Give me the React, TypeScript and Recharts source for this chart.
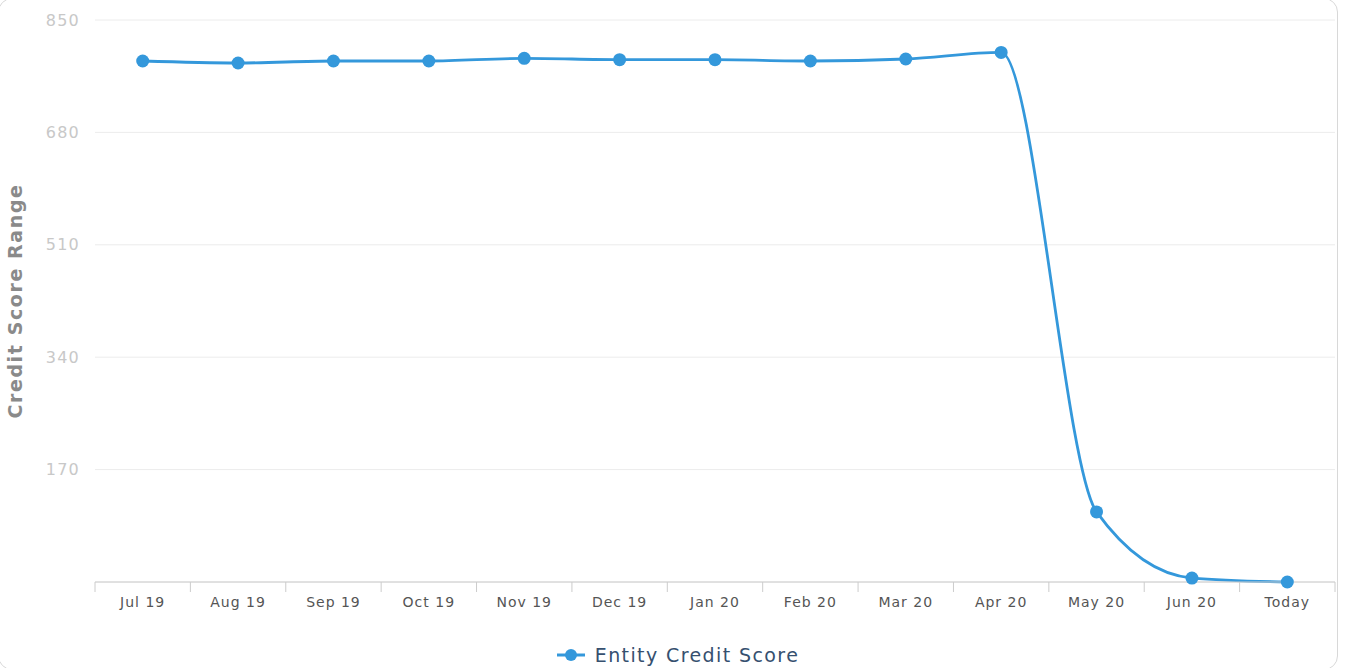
import React from "react";
import { LineChart, Line, XAxis, YAxis, CartesianGrid, Legend } from "recharts";

const months = ["Jul 19", "Aug 19", "Sep 19", "Oct 19", "Nov 19", "Dec 19", "Jan 20", "Feb 20", "Mar 20", "Apr 20", "May 20", "Jun 20", "Today"];
const scores = [788, 785, 788, 788, 792, 790, 790, 788, 791, 801, 106, 6, 0];
const yTicks = [0, 170, 340, 510, 680, 850];
const seriesName = "Entity Credit Score";

const data = months.map((m, i) => ({ month: m, score: scores[i] }));

const LINE_COLOR = "#3498db";

const XTick = (props: any) => {
  const { x, y, payload } = props;
  const off = payload && payload.offset ? payload.offset : 0;
  const isLast = payload.value === months[months.length - 1];
  return (
    <g>
      <line x1={x - off} x2={x - off} y1={y} y2={y + 10} stroke="#ccc" strokeWidth={1} />
      {isLast && <line x1={x + off} x2={x + off} y1={y} y2={y + 10} stroke="#ccc" strokeWidth={1} />}
      <text
        x={x}
        y={y + 21}
        textAnchor="middle"
        dominantBaseline="middle"
        fontSize={14}
        letterSpacing={1}
        fill="#555"
        fontFamily="DejaVu Sans"
      >
        {payload.value}
      </text>
    </g>
  );
};

const YTick = (props: any) => {
  const { x, y, payload } = props;
  if (payload.value === 0) return null;
  return (
    <text
      x={x}
      y={y}
      textAnchor="end"
      dominantBaseline="central"
      fontSize={16}
      letterSpacing={1.2}
      fill="#c8c8c8"
      fontFamily="DejaVu Sans"
    >
      {payload.value}
    </text>
  );
};

const LegendContent = () => (
  <div style={{ display: "flex", justifyContent: "center", alignItems: "center", paddingTop: 22, paddingLeft: 20, fontFamily: "DejaVu Sans" }}>
    <svg width={30} height={14} style={{ marginRight: 9 }}>
      <line x1={1} x2={29} y1={7} y2={7} stroke={LINE_COLOR} strokeWidth={3} />
      <circle cx={15} cy={7} r={6} fill={LINE_COLOR} />
    </svg>
    <span style={{ fontSize: 19, letterSpacing: 1.4, color: "#36506f" }}>{seriesName}</span>
  </div>
);

export default function App() {
  return (
    <div style={{ position: "absolute", left: 0, top: 0, width: 1347, height: 668, overflow: "hidden", background: "#fff" }}>
      <div style={{ position: "absolute", left: -2, top: -2, width: 1338, height: 670, border: "1px solid #d8d8d8", borderRadius: 14 }} />
      <div style={{ position: "absolute", left: 0, top: 0 }}>
        <LineChart width={1347} height={668} data={data} margin={{ top: 20, right: 12, left: 0, bottom: 6 }}>
          <CartesianGrid vertical={false} stroke="#ececec" />
          <XAxis
            dataKey="month"
            scale="band"
            interval={0}
            tickSize={0}
            tickMargin={0}
            height={40}
            axisLine={{ stroke: "#ccc" }}
            tickLine={false}
            tick={<XTick />}
          />
          <YAxis
            domain={[0, 850]}
            ticks={yTicks}
            width={95}
            axisLine={false}
            tickLine={false}
            tickSize={0}
            tickMargin={15}
            tick={<YTick />}
            label={{
              value: "Credit Score Range",
              angle: -90,
              position: "insideLeft",
              offset: 15,
              style: { textAnchor: "middle", fill: "#8a8a8a", fontSize: 19, letterSpacing: 1.6, fontWeight: "bold", fontFamily: "DejaVu Sans" },
            }}
          />
          <Legend verticalAlign="bottom" height={40} content={<LegendContent />} />
          <Line
            type="monotone"
            dataKey="score"
            name={seriesName}
            stroke={LINE_COLOR}
            strokeWidth={2.8}
            dot={{ r: 6.5, fill: LINE_COLOR, stroke: "none" }}
            activeDot={false}
            isAnimationActive={false}
          />
        </LineChart>
      </div>
    </div>
  );
}
